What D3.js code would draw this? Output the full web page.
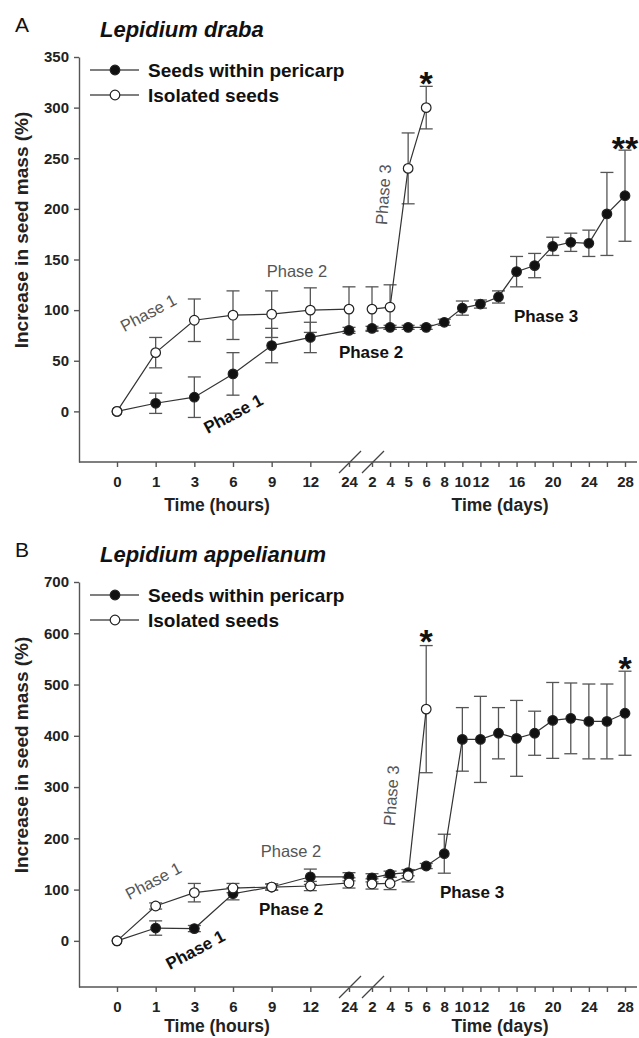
<!DOCTYPE html>
<html>
<head>
<meta charset="utf-8">
<script src="https://cdn.jsdelivr.net/npm/d3@7"></script>
<style>
  body { margin: 0; background: #fff; }
  text { font-family: "Liberation Sans", Arial, sans-serif; }
</style>
</head>
<body>
<svg id="chart" width="639" height="1038"></svg>
<script>
// x categories (hours, then days after the axis break)
var hourTicks = [0, 1, 3, 6, 9, 12, 24]
var dayTicks = [2, 4, 5, 6, 8, 10, 12, 14, 16, 18, 20, 22, 24, 26, 28]
var dayLabels = [2, 4, 5, 6, 8, 10, 12, 16, 20, 24, 28]
var isolatedDayTicks = [2, 4, 5, 6]

// A: Lepidium draba
var drabaPericarpHours = [0, 8, 14, 37, 65, 73, 80]
var drabaPericarpHoursErr = [0, 10, 20, 21, 17, 15, 3]
var drabaPericarpDays = [82, 83, 83, 83, 88, 102, 106, 113, 138, 144, 163, 167, 166, 195, 213]
var drabaPericarpDaysErr = [2, 2, 2, 2, 3, 7, 4, 6, 15, 12, 9, 9, 13, 41, 45]
var drabaIsolatedHours = [0, 58, 90, 95, 96, 100, 101]
var drabaIsolatedHoursErr = [0, 15, 21, 24, 23, 22, 22]
var drabaIsolatedDays = [101, 103, 240, 300]
var drabaIsolatedDaysErr = [22, 22, 35, 21]

// B: Lepidium appelianum
var appelPericarpHours = [0, 25, 24, 92, 105, 125, 125]
var appelPericarpHoursErr = [0, 14, 6, 12, 6, 15, 8]
var appelPericarpDays = [123, 130, 133, 146, 170, 393, 393, 405, 395, 405, 430, 434, 428, 428, 444]
var appelPericarpDaysErr = [8, 6, 6, 5, 38, 62, 84, 50, 74, 43, 74, 69, 73, 73, 82]
var appelIsolatedHours = [0, 68, 94, 103, 105, 107, 113]
var appelIsolatedHoursErr = [0, 6, 18, 9, 6, 9, 10]
var appelIsolatedDays = [111, 112, 127, 452]
var appelIsolatedDaysErr = [10, 12, 12, 124]

var svg = d3.select("#chart")

var axisX = 79
var xHours = d3.scalePoint().domain(hourTicks).range([117, 349])
var xDays = d3.scalePoint().domain(dayTicks).range([372, 625])

function pts(xs, scale, vals, errs) {
  return xs.map(function(d, i) { return {x: scale(d), v: vals[i], e: errs[i]} })
}

function drawPanel(p) {
  var g = svg.append("g")
  var y = d3.scaleLinear().domain([p.yMin, p.yMax]).range([p.axisY, p.topY])

  // y axis
  var yAxis = d3.axisLeft(y)
    .tickValues(d3.range(0, p.yMax + 1, p.yStep))
    .tickSize(5).tickSizeOuter(0).tickPadding(5)
  var ya = g.append("g").attr("transform", "translate(" + axisX + ",0)").call(yAxis)
  ya.selectAll("path, line").attr("stroke", "#555").attr("stroke-width", 1.4)
  ya.selectAll("text").attr("font-size", 15).attr("font-weight", "bold")
    .attr("fill", "#222").attr("font-family", "Liberation Sans, Arial, sans-serif")

  // x axis line + break marks
  g.append("line")
    .attr("x1", axisX).attr("x2", 637)
    .attr("y1", p.axisY).attr("y2", p.axisY)
    .attr("stroke", "#555").attr("stroke-width", 1.4)
  ;[xHours(24) + 1, xDays(2) + 1].forEach(function(cx) {
    g.append("line")
      .attr("x1", cx - 11).attr("y1", p.axisY + 11)
      .attr("x2", cx + 11).attr("y2", p.axisY - 11)
      .attr("stroke", "#444").attr("stroke-width", 1.2)
  })

  var xa1 = g.append("g").attr("transform", "translate(0," + p.axisY + ")")
    .call(d3.axisBottom(xHours).tickSize(5).tickPadding(9))
  var xa2 = g.append("g").attr("transform", "translate(0," + p.axisY + ")")
    .call(d3.axisBottom(xDays).tickSize(5).tickPadding(9)
      .tickFormat(function(d) { return dayLabels.indexOf(d) >= 0 ? d : "" }))
  ;[xa1, xa2].forEach(function(a) {
    a.select(".domain").remove()
    a.selectAll("line").attr("stroke", "#555").attr("stroke-width", 1.4)
    a.selectAll("text").attr("font-size", 15).attr("font-weight", "bold")
      .attr("fill", "#222").attr("font-family", "Liberation Sans, Arial, sans-serif")
  })

  g.append("text").attr("x", 217).attr("y", p.axisY + p.titleGap)
    .attr("text-anchor", "middle").attr("font-size", 17.5).attr("font-weight", "bold")
    .attr("fill", "#222").text("Time (hours)")
  g.append("text").attr("x", 500).attr("y", p.axisY + p.titleGap)
    .attr("text-anchor", "middle").attr("font-size", 17.5).attr("font-weight", "bold")
    .attr("fill", "#222").text("Time (days)")

  g.append("text")
    .attr("transform", "translate(28," + (p.topY + 173) + ") rotate(-90)")
    .attr("text-anchor", "middle").attr("font-size", 19).attr("font-weight", "bold")
    .attr("fill", "#222").text("Increase in seed mass (%)")

  // panel letter and title
  g.append("text").attr("x", 15).attr("y", p.topY - 25)
    .attr("font-size", 21).attr("fill", "#111").text(p.letter)
  g.append("text").attr("x", 100).attr("y", p.topY - 20)
    .attr("font-size", 22).attr("font-weight", "bold").attr("font-style", "italic")
    .attr("fill", "#111").text(p.title)

  // series
  var series = [
    {fill: "#111", segs: [pts(hourTicks, xHours, p.perH, p.perHE), pts(dayTicks, xDays, p.perD, p.perDE)]},
    {fill: "#fff", segs: [pts(hourTicks, xHours, p.isoH, p.isoHE), pts(isolatedDayTicks, xDays, p.isoD, p.isoDE)]}
  ]
  var line = d3.line().x(function(d) { return d.x }).y(function(d) { return y(d.v) })

  series.forEach(function(s) {
    s.segs.forEach(function(seg) {
      var eb = g.append("g").attr("stroke", "#555").attr("stroke-width", 1.3)
      seg.filter(function(d) { return d.e > 0 }).forEach(function(d) {
        eb.append("line").attr("x1", d.x).attr("x2", d.x)
          .attr("y1", y(d.v - d.e)).attr("y2", y(d.v + d.e))
        eb.append("line").attr("x1", d.x - 6.5).attr("x2", d.x + 6.5)
          .attr("y1", y(d.v + d.e)).attr("y2", y(d.v + d.e))
        eb.append("line").attr("x1", d.x - 6.5).attr("x2", d.x + 6.5)
          .attr("y1", y(d.v - d.e)).attr("y2", y(d.v - d.e))
      })
    })
  })
  series.forEach(function(s) {
    s.segs.forEach(function(seg) {
      g.append("path").datum(seg).attr("d", line)
        .attr("fill", "none").attr("stroke", "#333").attr("stroke-width", 1.2)
    })
  })
  series.forEach(function(s) {
    s.segs.forEach(function(seg) {
      g.selectAll(null).data(seg).enter().append("circle")
        .attr("cx", function(d) { return d.x })
        .attr("cy", function(d) { return y(d.v) })
        .attr("r", 4.8)
        .attr("fill", s.fill).attr("stroke", "#222").attr("stroke-width", 1.2)
    })
  })

  // legend
  var keys = [{name: "Seeds within pericarp", fill: "#111"}, {name: "Isolated seeds", fill: "#fff"}]
  keys.forEach(function(k, i) {
    var ly = p.topY + 13 + i * 25
    g.append("line").attr("x1", 90).attr("x2", 139).attr("y1", ly).attr("y2", ly)
      .attr("stroke", "#555").attr("stroke-width", 1.3)
    g.append("circle").attr("cx", 115).attr("cy", ly).attr("r", 4.8)
      .attr("fill", k.fill).attr("stroke", "#222").attr("stroke-width", 1.2)
    g.append("text").attr("x", 148).attr("y", ly + 7)
      .attr("font-size", 19).attr("font-weight", "bold").attr("fill", "#111").text(k.name)
  })

  // phase annotations
  p.notes.forEach(function(n) {
    g.append("text")
      .attr("transform", "translate(" + n.x + "," + n.y + ") rotate(" + (n.rot || 0) + ")")
      .attr("text-anchor", "middle")
      .attr("font-size", n.bold ? 17 : 16.5)
      .attr("font-weight", n.bold ? "bold" : "normal")
      .attr("fill", n.bold ? "#111" : "#555")
      .text(n.t)
  })

  // significance marks
  p.stars.forEach(function(s) {
    var sc = s.day ? xDays : xHours
    g.append("text").attr("x", sc(s.at)).attr("y", y(s.v) + 20)
      .attr("text-anchor", "middle").attr("font-size", 34).attr("font-weight", "bold")
      .attr("fill", "#111").text(s.t)
  })
}

drawPanel({
  letter: "A", title: "Lepidium draba",
  yMin: -50, yMax: 350, yStep: 50, topY: 57, axisY: 462, titleGap: 49,
  perH: drabaPericarpHours, perHE: drabaPericarpHoursErr,
  perD: drabaPericarpDays, perDE: drabaPericarpDaysErr,
  isoH: drabaIsolatedHours, isoHE: drabaIsolatedHoursErr,
  isoD: drabaIsolatedDays, isoDE: drabaIsolatedDaysErr,
  notes: [
    {t: "Phase 1", x: 151, y: 318, rot: -28},
    {t: "Phase 1", x: 236, y: 419, rot: -28, bold: true},
    {t: "Phase 2", x: 297, y: 277},
    {t: "Phase 2", x: 371, y: 358, bold: true},
    {t: "Phase 3", x: 389, y: 195, rot: -86},
    {t: "Phase 3", x: 546, y: 322, bold: true}
  ],
  stars: [
    {t: "*", at: 6, day: true, v: 332},
    {t: "**", at: 28, day: true, v: 268}
  ]
})

drawPanel({
  letter: "B", title: "Lepidium appelianum",
  yMin: -90, yMax: 700, yStep: 100, topY: 582, axisY: 987, titleGap: 45,
  perH: appelPericarpHours, perHE: appelPericarpHoursErr,
  perD: appelPericarpDays, perDE: appelPericarpDaysErr,
  isoH: appelIsolatedHours, isoHE: appelIsolatedHoursErr,
  isoD: appelIsolatedDays, isoDE: appelIsolatedDaysErr,
  notes: [
    {t: "Phase 1", x: 156, y: 886, rot: -28},
    {t: "Phase 1", x: 198, y: 955, rot: -28, bold: true},
    {t: "Phase 2", x: 291, y: 857},
    {t: "Phase 2", x: 291, y: 915, bold: true},
    {t: "Phase 3", x: 397, y: 796, rot: -86},
    {t: "Phase 3", x: 472, y: 898, bold: true}
  ],
  stars: [
    {t: "*", at: 6, day: true, v: 600},
    {t: "*", at: 28, day: true, v: 547}
  ]
})
</script>
</body>
</html>
